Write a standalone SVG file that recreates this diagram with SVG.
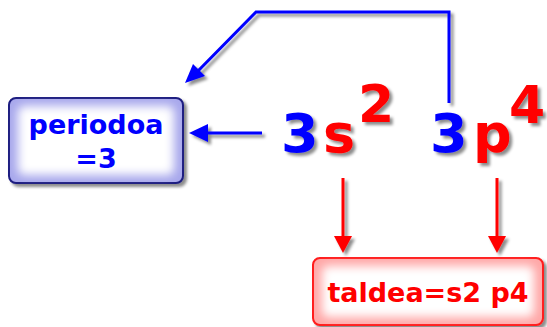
<svg xmlns="http://www.w3.org/2000/svg" width="547" height="327" viewBox="0 0 547 327">
<defs>
<filter id="sh" x="-20%" y="-20%" width="140%" height="140%"><feDropShadow dx="3" dy="3" stdDeviation="1.5" flood-color="#000" flood-opacity="0.45"/></filter>
<filter id="soft" x="-20%" y="-20%" width="140%" height="140%"><feGaussianBlur stdDeviation="5"/></filter>
</defs>
<style>
text{font-family:"DejaVu Sans","Liberation Sans",sans-serif;font-weight:bold}
.b{fill:#0000ff}.r{fill:#ff0000}
.big{font-size:54px}
.box{font-size:27px}
</style>
<g id="connectors" fill="none" stroke-width="3" filter="url(#sh)">
<path d="M262,133 H205" stroke="#0000ff"/><path d="M208,124 L189,133 L208,142 z" fill="#0000ff"/>
<path d="M449,103 V12 H256 L197,72" stroke="#0000ff"/><path d="M185,83 L193,64 L205,76 z" fill="#0000ff"/>
<path d="M343,178 V238" stroke="#ff0000"/><path d="M334,236 L343,253 L352,236 z" fill="#ff0000"/>
<path d="M497,178 V238" stroke="#ff0000"/><path d="M488,236 L497,253 L506,236 z" fill="#ff0000"/>
</g>
<g id="periodoa">
<g filter="url(#sh)"><rect x="9" y="98" width="174" height="85" rx="7" fill="#a8a8ec" stroke="#1c1c80" stroke-width="2"/></g>
<rect x="18" y="106" width="156" height="69" rx="6" fill="#fff" filter="url(#soft)"/>
<text class="b box" x="96" y="134" text-anchor="middle">periodoa</text>
<text class="b box" x="96" y="168" text-anchor="middle">=3</text>
</g>
<g id="formula" filter="url(#sh)">
<text class="big b" x="281" y="152">3</text>
<text class="big r" x="323" y="152">s</text>
<text class="r" x="358" y="122" font-size="52">2</text>
<text class="big b" x="430" y="152">3</text>
<text class="big r" x="473" y="152">p</text>
<text class="r" x="509" y="123" font-size="52">4</text>
</g>
<g id="taldea">
<g filter="url(#sh)"><rect x="313" y="258" width="230" height="67" rx="7" fill="#ffa8a8" stroke="#ff1a1a" stroke-width="2"/></g>
<rect x="322" y="266" width="212" height="51" rx="6" fill="#fff" filter="url(#soft)"/>
<text class="r box" x="428" y="302" text-anchor="middle">taldea=s2 p4</text>
</g>
</svg>
